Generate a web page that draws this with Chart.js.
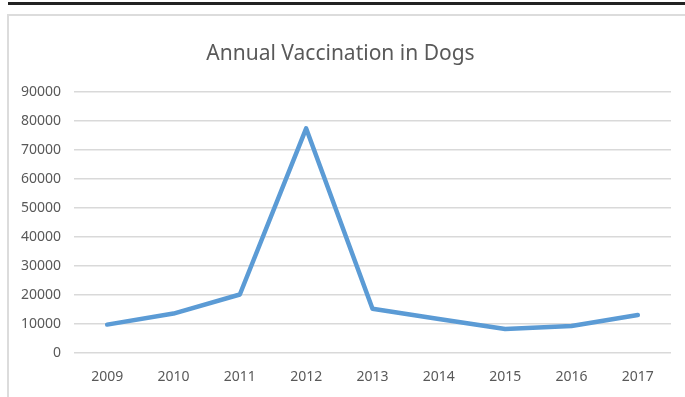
<!DOCTYPE html>
<html>
<head>
<meta charset="utf-8">
<script src="https://cdn.jsdelivr.net/npm/chart.js@4"></script>
<style>
    body { margin: 0; background: #fff; overflow: hidden; }
    #bar { position: absolute; left: 8px; top: 2px; width: 677px; height: 3px; background: #222; }
    #frame { position: absolute; left: 7px; top: 14px; width: 700px; height: 400px; border: 2px solid #dcdcdc; }
    #wrap { position: absolute; left: 0; top: 0; width: 685px; height: 397px; }
</style>
</head>
<body>
<div id="bar"></div>
<div id="frame"></div>
<div id="wrap"><canvas id="dogChart"></canvas></div>
<script>
const years = ["2009", "2010", "2011", "2012", "2013", "2014", "2015", "2016", "2017"];
const vaccinations = [9800, 13600, 20200, 77500, 15300, 11700, 8300, 9300, 13100];
const yMax = 90000;
const yStep = 10000;

new Chart(document.getElementById("dogChart"), {

    type: "line",

    data: {
        labels: years,
        datasets: [{
            data: vaccinations,
            borderColor: "#5b9bd5",
            borderWidth: 4.5,
            borderCapStyle: "round",
            borderJoinStyle: "round",
            tension: 0,
            pointRadius: 0,
            fill: false
        }]
    },

    options: {
        responsive: true,
        maintainAspectRatio: false,
        animation: false,
        layout: {
            padding: { left: 10, right: 14, top: 28, bottom: 10 }
        },
        plugins: {
            legend: { display: false },
            tooltip: { enabled: false },
            title: {
                display: true,
                text: "Annual Vaccination in Dogs",
                color: "#595959",
                font: { family: "'Noto Sans', sans-serif", size: 21, weight: "normal", lineHeight: 1.2 },
                padding: { top: 13, bottom: 26 }
            }
        },
        scales: {
            x: {
                offset: true,
                afterFit: scale => { scale.height = 34; },
                grid: { display: false, drawTicks: false },
                border: { display: false },
                ticks: {
                    color: "#595959",
                    padding: 16,
                    font: { family: "'Noto Sans', sans-serif", size: 14 }
                }
            },
            y: {
                min: 0,
                max: yMax,
                afterFit: scale => { scale.width = 64; },
                grid: { color: "#d9d9d9", lineWidth: 1.5, drawTicks: false },
                border: { display: false },
                ticks: {
                    stepSize: yStep,
                    color: "#595959",
                    padding: 13,
                    callback: value => String(value),
                    font: { family: "'Noto Sans', sans-serif", size: 14 }
                }
            }
        }
    }
});
</script>
</body>
</html>
